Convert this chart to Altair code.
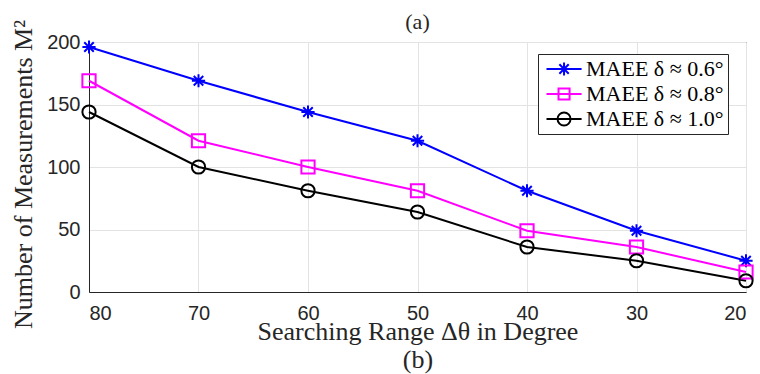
import altair as alt
import pandas as pd

ranges = [80, 70, 60, 50, 40, 30, 20]
series_names = ["MAEE δ ≈ 0.6°", "MAEE δ ≈ 0.8°", "MAEE δ ≈ 1.0°"]
vals_06 = [196, 169, 144, 121, 81, 49, 25]
vals_08 = [169, 121, 100, 81, 49, 36, 16]
vals_10 = [144, 100, 81, 64, 36, 25, 9]
colors = ["#0000ff", "#ff00ff", "#000000"]
top_label = ["(a)"]

rows = []
for name, vals in zip(series_names, [vals_06, vals_08, vals_10]):
    for r, v in zip(ranges, vals):
        rows.append({"range": r, "M2": v, "series": name})
df = pd.DataFrame(rows)

asterisk = "M-1,0H1M0,-1V1M-0.72,-0.72L0.72,0.72M-0.72,0.72L0.72,-0.72"
plot_shapes = [asterisk, "square", "circle"]
legend_shapes = [
    "M-1,0H4.4M1.7,-1V1M0.98,-0.72L2.42,0.72M0.98,0.72L2.42,-0.72",
    "M-1,0H4.4M0.85,-0.85H2.55V0.85H0.85Z",
    "M-1,0H4.4M2.7,0A1,1 0 1,1 0.7,0A1,1 0 1,1 2.7,0Z",
]

xenc = alt.X("range:Q",
             scale=alt.Scale(domain=[20, 80], reverse=True, nice=False, zero=False),
             axis=alt.Axis(values=ranges, title=["Searching Range Δθ in Degree", "(b)"],
                           titleLineHeight=28, labelPadding=11,
                           titleY=47, titleBaseline="alphabetic"))
yenc = alt.Y("M2:Q",
             scale=alt.Scale(domain=[0, 200], nice=False),
             axis=alt.Axis(values=[0, 50, 100, 150, 200], title="Number of Measurements M²",
                           labelPadding=9, titleX=-58, titleY=132, titleAngle=270,
                           titleBaseline="alphabetic", titleAlign="center"))

color_scale = alt.Scale(domain=series_names, range=colors)
cenc = alt.Color("series:N", scale=color_scale, legend=alt.Legend(title=None))
base = alt.Chart(df)

lines = base.mark_line(strokeWidth=2).encode(x=xenc, y=yenc, color=cenc)

point_layers = [
    base.transform_filter(alt.datum.series == name)
    .mark_point(filled=False, strokeWidth=2, size=175, shape=shp, opacity=1)
    .encode(x=xenc, y=yenc, color=cenc)
    for name, shp in zip(series_names, plot_shapes)
]

legend_layer = base.mark_point(filled=False, strokeWidth=2, size=169, opacity=0).encode(
    x=xenc, y=yenc, color=cenc,
    shape=alt.Shape("series:N", scale=alt.Scale(domain=series_names, range=legend_shapes),
                    legend=alt.Legend(title=None)),
)

title_text = alt.Chart(pd.DataFrame({"t": top_label})).mark_text(
    font="Liberation Serif", fontSize=22, color="#262626",
    align="center", baseline="alphabetic",
).encode(text="t:N", x=alt.value(328.5), y=alt.value(-13))

chart = alt.layer(lines, *point_layers, legend_layer, title_text).properties(
    width=657, height=250,
    autosize=alt.AutoSizeParams(type="none"),
    padding={"left": 89, "top": 42, "right": 14, "bottom": 82},
).configure_view(
    stroke="#262626", strokeWidth=1
).configure_axis(
    labelFont="Liberation Sans", labelFontSize=20, labelColor="#262626",
    titleFont="Liberation Serif", titleFontSize=26, titleFontWeight="normal", titleColor="#262626",
    domainColor="#262626", domainWidth=1, tickSize=0,
    grid=True, gridColor="#e3e3e3", gridWidth=1,
).configure_legend(
    orient="none", legendX=449, legendY=12,
    labelFont="Liberation Serif", labelFontSize=22, labelColor="#000000",
    symbolSize=169, symbolStrokeWidth=2, labelOffset=22,
    strokeColor="#262626", fillColor="white", padding=4, rowPadding=3, cornerRadius=0,
    labelLimit=400,
)

chart.save("out.html", embed_options={"renderer": "svg", "actions": False})
